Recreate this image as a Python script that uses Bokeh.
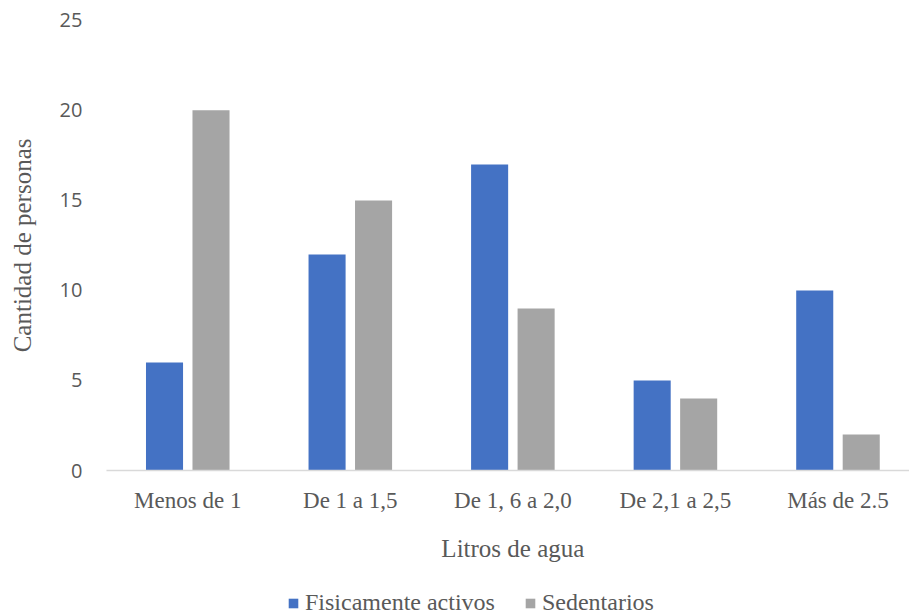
import math
from bokeh.plotting import figure
from bokeh.models import ColumnDataSource, Legend, LegendItem, Range1d
from bokeh.core.properties import value
from bokeh.embed import file_html
from bokeh.resources import INLINE

# Water intake groups and people counts per group
categorias = ["Menos de 1", "De 1 a 1,5", "De 1, 6 a 2,0", "De 2,1 a 2,5", "Más de 2.5"]
activos = [6, 12, 17, 5, 10]
sedentarios = [20, 15, 9, 4, 2]
y_ticks = [0, 5, 10, 15, 20, 25]

TEXT = "#595959"
SERIF = "Liberation Serif"

n = len(categorias)
centers = [i + 0.5 for i in range(n)]
offset = 0.143
bar_w = 0.228

src_a = ColumnDataSource(dict(x=[c - offset for c in centers], top=activos))
src_s = ColumnDataSource(dict(x=[c + offset for c in centers], top=sedentarios))
src_cat = ColumnDataSource(dict(x=centers, y=[0] * n, text=categorias))
src_yt = ColumnDataSource(dict(x=[0] * len(y_ticks), y=y_ticks,
                               text=[str(t) for t in y_ticks]))

# the frame fills the whole canvas; axis texts, titles and legend are drawn inside it
p = figure(width=909, height=615, output_backend="svg", toolbar_location=None,
           x_range=Range1d(-0.652, 4.94), y_range=Range1d(-8.05, 26.1),
           min_border=0)
p.outline_line_color = None
p.xgrid.visible = False
p.ygrid.visible = False
p.xaxis.visible = False
p.yaxis.visible = False

ra = p.vbar(x="x", top="top", width=bar_w, source=src_a, fill_color="#4472C4", line_color=None)
rs = p.vbar(x="x", top="top", width=bar_w, source=src_s, fill_color="#A5A5A5", line_color=None)

# category baseline
p.segment(x0=[0], y0=[0], x1=[n], y1=[0], line_color="#D9D9D9", line_width=1.5)

# value tick labels
p.text(x="x", y="y", text="text", source=src_yt, x_offset=-24,
       text_align="right", text_baseline="middle",
       text_font=value("Open Sans"), text_font_size="20px", text_color=TEXT)

# y title
p.text(x=[0], y=[y_ticks[-1] / 2], text=["Cantidad de personas"], x_offset=-84,
       angle=math.pi / 2, text_align="center", text_baseline="middle",
       text_font=value(SERIF), text_font_size="25px", text_color=TEXT)

# category names under each pair of bars
p.text(x="x", y="y", text="text", source=src_cat, y_offset=30,
       text_align="center", text_baseline="middle",
       text_font=value(SERIF), text_font_size="23px", text_color=TEXT)

# x title
p.text(x=[n / 2], y=[0], text=["Litros de agua"], y_offset=78,
       text_align="center", text_baseline="middle",
       text_font=value(SERIF), text_font_size="25px", text_color=TEXT)

legend = Legend(items=[LegendItem(label="Fisicamente activos", renderers=[ra]),
                       LegendItem(label="Sedentarios", renderers=[rs])],
                orientation="horizontal", location=(287, -1),
                glyph_width=12, glyph_height=12, spacing=29, padding=0, margin=0,
                label_standoff=6, border_line_color=None, background_fill_alpha=0,
                label_text_font=SERIF, label_text_font_size="24px",
                label_text_color=TEXT)
p.add_layout(legend, "center")

open("out.html", "w").write(file_html(p, INLINE))
